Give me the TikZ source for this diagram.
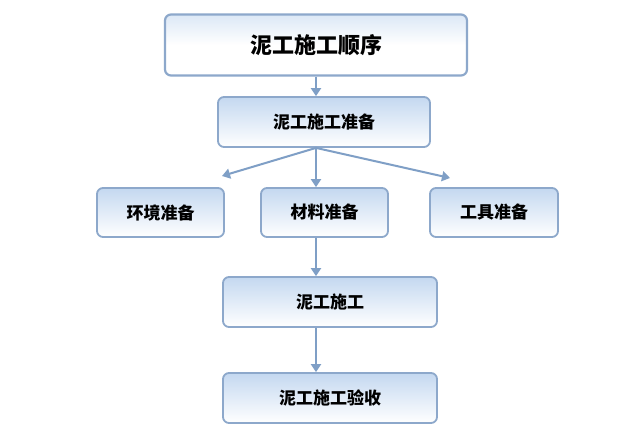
\documentclass[tikz,border=0pt]{standalone}
\usepackage{fontspec}
\setmainfont{Noto Sans CJK SC}
\usetikzlibrary{arrows.meta}
\definecolor{edgeblue}{HTML}{8DA8CB}
\definecolor{fillblue}{HTML}{C4D8F0}
\definecolor{arrowblue}{HTML}{7F9FC6}
\tikzset{
  stepbox/.style={draw=edgeblue, line width=1.8pt, rounded corners=6pt,
    top color=fillblue, bottom color=white, font=\bfseries\fontsize{17}{17}\selectfont},
  titlebox/.style={stepbox, line width=2.2pt, top color=fillblue!60, bottom color=white,
    middle color=white, font=\bfseries\fontsize{22}{22}\selectfont},
  flow/.style={arrowblue, line width=2pt, -{Triangle[length=8pt,width=10pt]}}
}
\begin{document}
\begin{tikzpicture}[x=1pt,y=1pt]
		%%%%% START %%%%%
		\useasboundingbox[fill=white] (0,0) rectangle (640,-430);
		
		\node[titlebox, minimum width=302, minimum height=61] (order) at (316,-45) {泥工施工顺序};
		\node[stepbox, minimum width=212, minimum height=50] (prep) at (324,-122) {泥工施工准备};
		
		\node[stepbox, minimum width=127, minimum height=49] (env) at (160.5,-212.5) {环境准备};
		\node[stepbox, minimum width=127, minimum height=49] (mat) at (324.5,-212.5) {材料准备};
		\node[stepbox, minimum width=128, minimum height=49] (tool) at (494,-212.5) {工具准备};
		
		\node[stepbox, minimum width=214, minimum height=50] (work) at (330,-302) {泥工施工};
		\node[stepbox, minimum width=214, minimum height=50] (check) at (330,-398) {泥工施工验收};
		
		\coordinate (envtip) at (222,-176);
		\coordinate (tooltip) at (450,-178);
		
		\draw[flow] (order.south -| 316,0) -- (prep.north -| 316,0);
		\draw[flow] (prep.south -| 316,0) -- (envtip);
		\draw[flow] (prep.south -| 316,0) -- (mat.north -| 316,0);
		\draw[flow] (prep.south -| 316,0) -- (tooltip);
		\draw[flow] (mat.south -| 316,0) -- (work.north -| 316,0);
		\draw[flow] (work.south -| 316,0) -- (check.north -| 316,0);
		%%%%% END %%%%%
\end{tikzpicture}
\end{document}
